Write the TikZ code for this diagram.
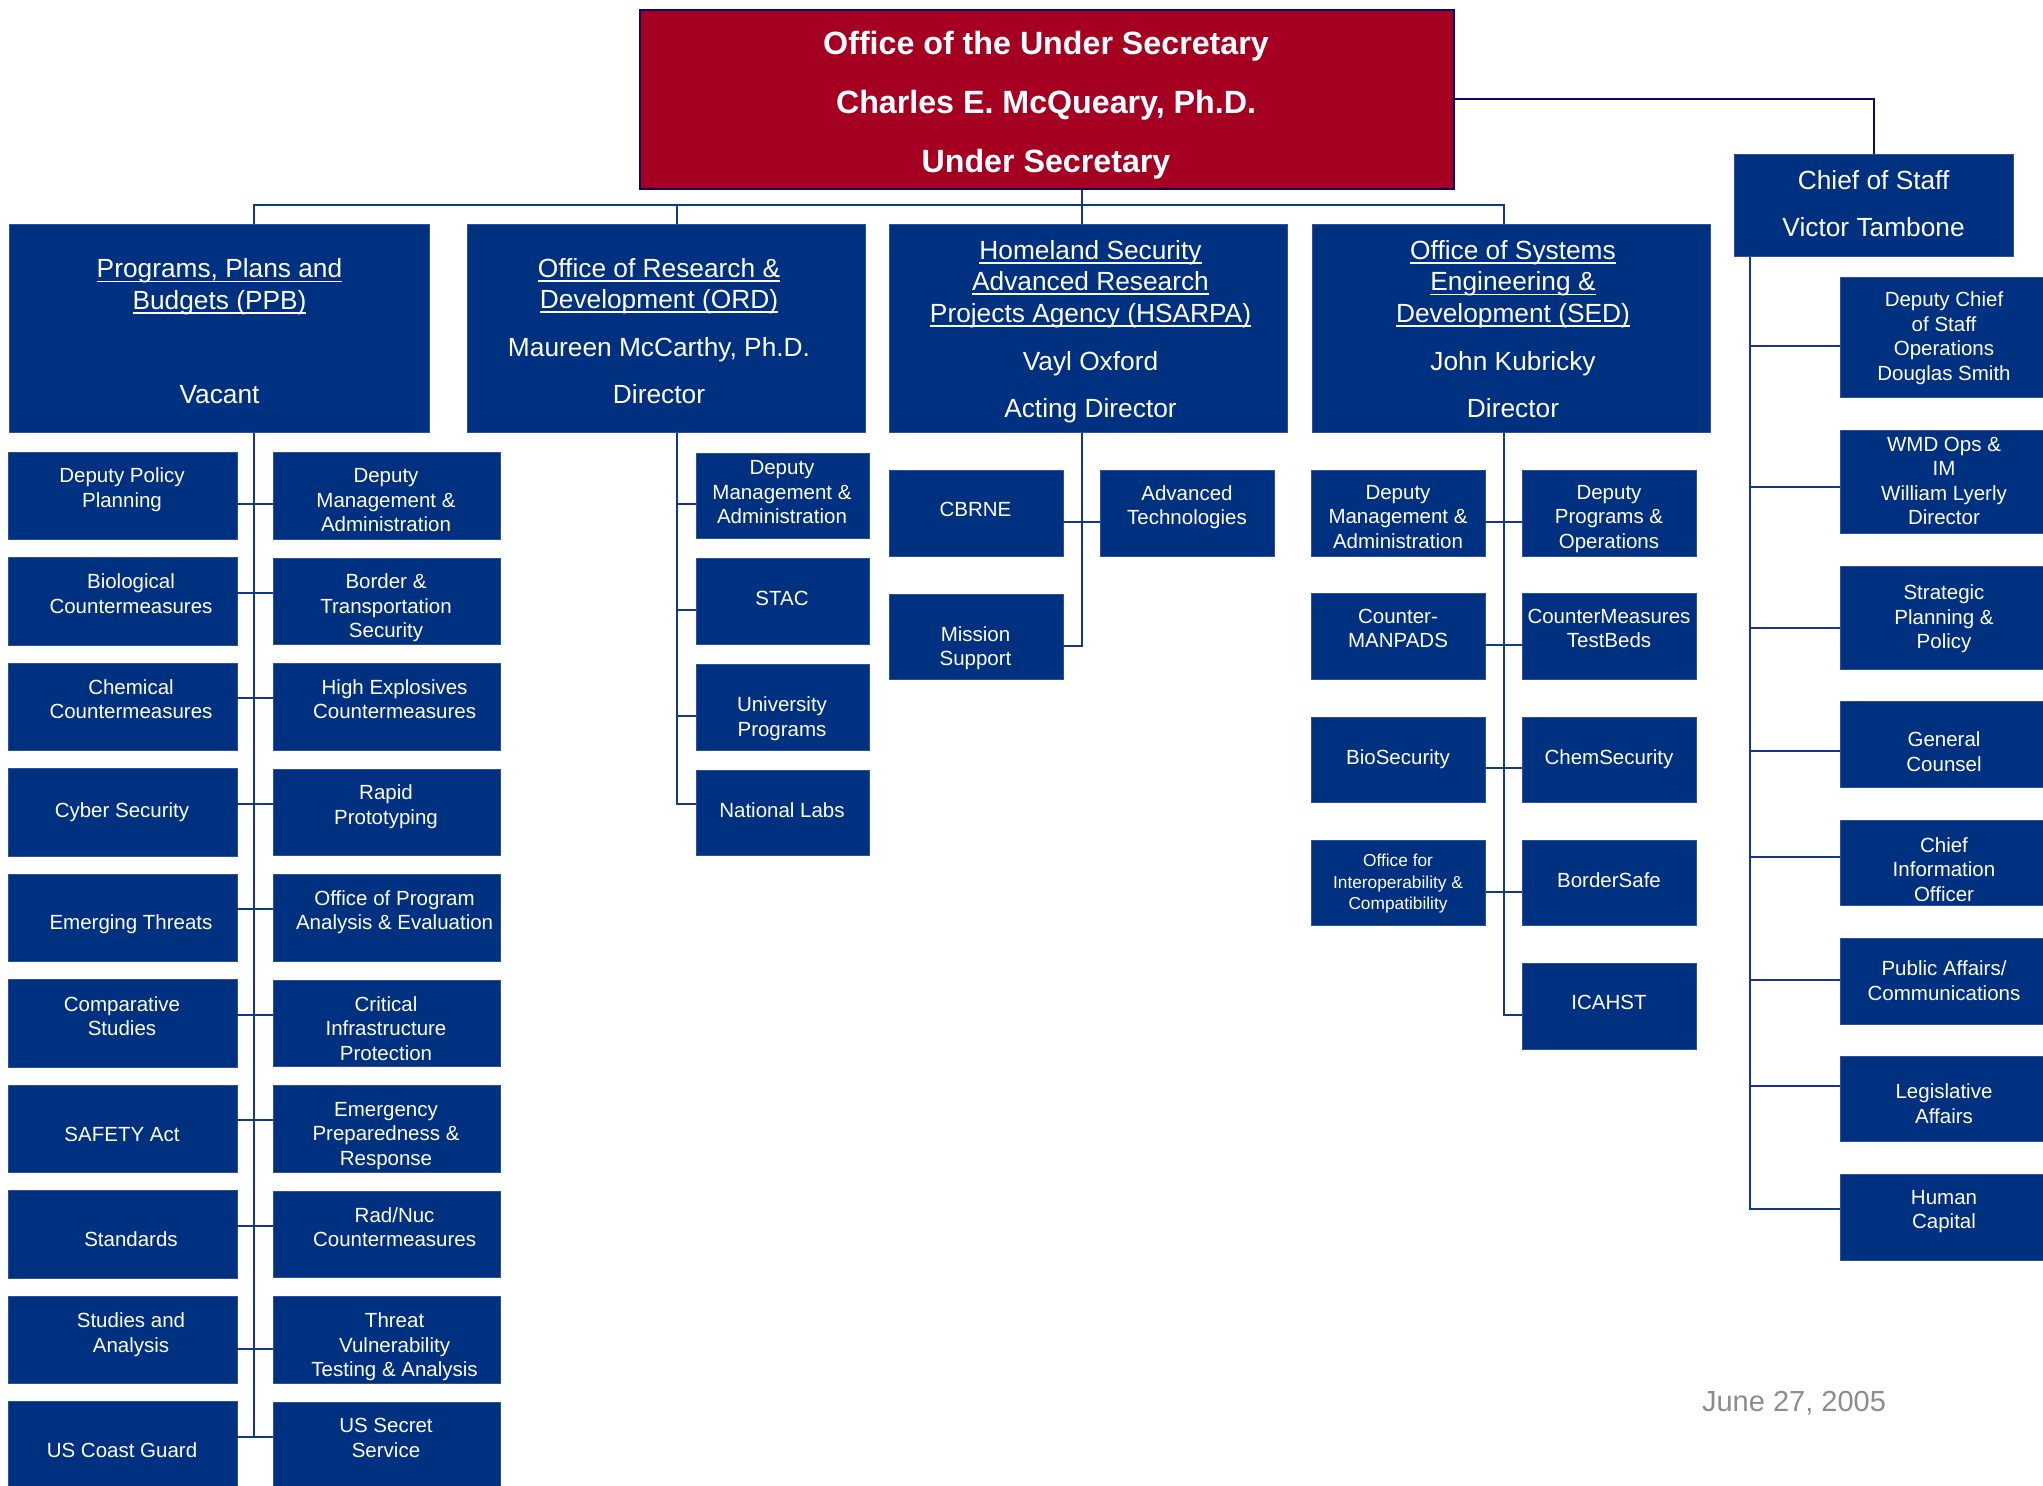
\documentclass[tikz,border=0pt]{standalone}
\usepackage{tikz}
\usepackage{fontspec}
\setmainfont{Liberation Sans}
\newcommand{\ulined}[1]{\setbox0=\hbox{#1}\rlap{\rule[-4.4pt]{\wd0}{1.8pt}}\box0}
\definecolor{dhsnavy}{RGB}{0,48,128}
\definecolor{dhsedge}{RGB}{45,80,155}
\definecolor{dhsred}{RGB}{165,0,33}
\definecolor{dhsdark}{RGB}{10,10,100}
\definecolor{wireblue}{RGB}{20,55,140}
\definecolor{dategray}{RGB}{140,140,140}

\begin{document}
\begin{tikzpicture}[x=1pt, y=-1pt,
    unitbox/.style={rectangle, fill=dhsnavy, draw=dhsedge, line width=0.8pt, inner sep=0pt},
    headbox/.style={unitbox, minimum width=398pt, minimum height=208.5pt},
    ppbl/.style={unitbox, minimum width=229pt, minimum height=87.5pt},
    ppbr/.style={unitbox, minimum width=227pt, minimum height=86.5pt},
    subbox/.style={unitbox, minimum width=173.5pt, minimum height=85.5pt},
    cosbox/.style={unitbox, minimum width=208pt, minimum height=85.5pt},
    txt/.style={text=white, align=center, inner sep=0pt, font=\fontsize{20.5}{24.5}\selectfont},
    headtxt/.style={txt, font=\fontsize{26.3}{31.5}\selectfont},
    titletxt/.style={txt, font=\bfseries\fontsize{32.2}{59}\selectfont},
    wire/.style={draw=wireblue, line width=2pt}]
        \useasboundingbox (0,0) rectangle (2043,1486);
        % Define the nodes
        \node[unitbox, fill=dhsred, draw=dhsdark, line width=2pt, minimum width=814pt, minimum height=178.5pt] (usec) at (1047,99.25) {};
        \node[titletxt] (usect) at (1046,105) {Office of the Under Secretary\\Charles E. McQueary, Ph.D.\\Under Secretary};
        \node[headbox, minimum width=419.5pt] (ppb) at (219.3,328.25) {};
        \node[headtxt] (ppbt) at (219.5,331.3) {\ulined{Programs, Plans and}\\\ulined{Budgets (PPB)}\\[62.5pt]Vacant};
        \node[headbox] (ord) at (666.2,328.25) {};
        \node[headtxt] (ordt) at (659,331) {\ulined{Office of Research \&}\\\ulined{Development (ORD)}\\[16.5pt]Maureen McCarthy, Ph.D.\\[15.5pt]Director};
        \node[headbox] (hsa) at (1088.5,328.25) {};
        \node[headtxt] (hsat) at (1090.5,331.5) {\ulined{Homeland Security}\\\ulined{Advanced Research}\\\ulined{Projects Agency (HSARPA)}\\[16.5pt]Vayl Oxford\\[15.5pt]Acting Director};
        \node[headbox] (sed) at (1511.3,328.25) {};
        \node[headtxt] (sedt) at (1513,329) {\ulined{Office of Systems}\\\ulined{Engineering \&}\\\ulined{Development (SED)}\\[16.5pt]John Kubricky\\[15.5pt]Director};
        \node[unitbox, minimum width=279.7pt, minimum height=102.7pt] (cos) at (1873.85,205.35) {};
        \node[headtxt] (cost) at (1873.6,203.7) {Chief of Staff\\[15pt]Victor Tambone};
        % PPB offices
        \node[ppbl] (pl1)  at (122.5,495.75)  {};
        \node[txt]  (pl1t) at (122,489.9)     {Deputy Policy\\Planning};
        \node[ppbr] (pr1)  at (386.5,495.75)  {};
        \node[txt]  (pr1t) at (386,500.2)     {Deputy\\Management \&\\Administration};
        \node[ppbl] (pl2)  at (122.5,601.25)  {};
        \node[txt]  (pl2t) at (131,593.5)     {Biological\\Countermeasures};
        \node[ppbr] (pr2)  at (386.5,601.25)  {};
        \node[txt]  (pr2t) at (386,608)       {Border \&\\Transportation\\Security};
        \node[ppbl] (pl3)  at (122.5,706.75)  {};
        \node[txt]  (pl3t) at (131,699.3)     {Chemical\\Countermeasures};
        \node[ppbr] (pr3)  at (386.5,706.75)  {};
        \node[txt]  (pr3t) at (394.6,699.3)   {High Explosives\\Countermeasures};
        \node[ppbl] (pl4)  at (122.5,812.25)  {};
        \node[txt]  (pl4t) at (122,812.6)     {Cyber Security};
        \node[ppbr] (pr4)  at (386.5,812.25)  {};
        \node[txt]  (pr4t) at (386,806.6)     {Rapid\\Prototyping};
        \node[ppbl] (pl5)  at (122.5,917.75)  {};
        \node[txt]  (pl5t) at (131,924.5)     {Emerging Threats};
        \node[ppbr] (pr5)  at (386.5,917.75)  {};
        \node[txt]  (pr5t) at (394.6,912)     {Office of Program\\Analysis \& Evaluation};
        \node[ppbl] (pl6)  at (122.5,1023.25) {};
        \node[txt]  (pl6t) at (122,1016)      {Comparative\\Studies};
        \node[ppbr] (pr6)  at (386.5,1023.25) {};
        \node[txt]  (pr6t) at (386,1028.3)    {Critical\\Infrastructure\\Protection};
        \node[ppbl] (pl7)  at (122.5,1128.75) {};
        \node[txt]  (pl7t) at (122,1134)      {SAFETY Act};
        \node[ppbr] (pr7)  at (386.5,1128.75) {};
        \node[txt]  (pr7t) at (386,1136)      {Emergency\\Preparedness \&\\Response};
        \node[ppbl] (pl8)  at (122.5,1234.25) {};
        \node[txt]  (pl8t) at (131,1239.4)    {Standards};
        \node[ppbr] (pr8)  at (386.5,1234.25) {};
        \node[txt]  (pr8t) at (394.6,1227.2)  {Rad/Nuc\\Countermeasures};
        \node[ppbl] (pl9)  at (122.5,1339.75) {};
        \node[txt]  (pl9t) at (131,1334.8)    {Studies and\\Analysis};
        \node[ppbr] (pr9)  at (386.5,1339.75) {};
        \node[txt]  (pr9t) at (394.6,1346.8)  {Threat\\Vulnerability\\Testing \& Analysis};
        \node[ppbl] (pl10)  at (122.5,1445.25) {};
        \node[txt]  (pl10t) at (122,1449.8)    {US Coast Guard};
        \node[ppbr] (pr10)  at (386.5,1445.25) {};
        \node[txt]  (pr10t) at (386,1437.8)    {US Secret\\Service};
        % ORD offices
        \node[subbox] (o1)  at (782.7,495.8) {};
        \node[txt]    (o1t) at (782,492.5)   {Deputy\\Management \&\\Administration};
        \node[subbox] (o2)  at (782.7,601.5) {};
        \node[txt]    (o2t) at (782,598.6)   {STAC};
        \node[subbox] (o3)  at (782.7,707.2) {};
        \node[txt]    (o3t) at (782,718.6)   {University\\Programs};
        \node[subbox] (o4)  at (782.7,812.9) {};
        \node[txt]    (o4t) at (782,810)     {National Labs};
        % HSARPA offices
        \node[subbox] (cbrne)    at (976.2,513.2)  {};
        \node[txt]    (cbrnet)   at (975.5,509.6)  {CBRNE};
        \node[subbox] (advt)     at (1187.3,513.2) {};
        \node[txt]    (advtt)    at (1187,507)     {Advanced\\Technologies};
        \node[subbox] (mission)  at (976.2,636.7)  {};
        \node[txt]    (missiont) at (975.5,648)    {Mission\\Support};
        % SED offices
        \node[subbox] (sl1)  at (1398.5,513.2)  {};
        \node[txt]    (sl1t) at (1398,517)      {Deputy\\Management \&\\Administration};
        \node[subbox] (sr1)  at (1609.5,513.2)  {};
        \node[txt]    (sr1t) at (1609,519)      {Deputy\\Programs \&\\Operations};
        \node[subbox] (sl2)  at (1398.5,636.5)  {};
        \node[txt]    (sl2t) at (1398,628.5)    {Counter-\\MANPADS};
        \node[subbox] (sr2)  at (1609.5,636.5)  {};
        \node[txt]    (sr2t) at (1609,628.5)    {CounterMeasures\\TestBeds};
        \node[subbox] (sl3)  at (1398.5,759.7)  {};
        \node[txt]    (sl3t) at (1398,759)      {BioSecurity};
        \node[subbox] (sr3)  at (1609.5,759.7)  {};
        \node[txt]    (sr3t) at (1609,759)      {ChemSecurity};
        \node[subbox] (sl4)  at (1398.5,883)    {};
        \node[txt, font=\fontsize{17.3}{21.5}\selectfont] (sl4t) at (1398,884) {Office for\\Interoperability \&\\Compatibility};
        \node[subbox] (sr4)  at (1609.5,883)    {};
        \node[txt]    (sr4t) at (1609,880)      {BorderSafe};
        \node[subbox] (sr5)  at (1609.5,1006.5) {};
        \node[txt]    (sr5t) at (1609,1002.6)   {ICAHST};
        % Chief of Staff offices
        \node[cosbox, minimum height=120.7pt] (c1) at (1944,337.35) {};
        \node[txt] (c1t) at (1944,338)   {Deputy Chief\\of Staff\\Operations\\Douglas Smith};
        \node[cosbox, minimum height=103pt] (c2) at (1944,481.8) {};
        \node[txt] (c2t) at (1944,481)   {WMD Ops \&\\IM\\William Lyerly\\Director};
        \node[cosbox, minimum height=103pt] (c3) at (1944,617.5) {};
        \node[txt] (c3t) at (1944,618.7) {Strategic\\Planning \&\\Policy};
        \node[cosbox] (c4)  at (1944,744.2)  {};
        \node[txt]    (c4t) at (1944,751.5)  {General\\Counsel};
        \node[cosbox] (c5)  at (1944,863)    {};
        \node[txt]    (c5t) at (1944,869.5)  {Chief\\Information\\Officer};
        \node[cosbox] (c6)  at (1944,981.2)  {};
        \node[txt]    (c6t) at (1944,980.5)  {Public Affairs/\\Communications};
        \node[cosbox] (c7)  at (1944,1099)   {};
        \node[txt]    (c7t) at (1944,1103.8) {Legislative\\Affairs};
        \node[cosbox] (c8)  at (1944,1217.5) {};
        \node[txt]    (c8t) at (1944,1211.5) {Human\\Capital};
        \node[text=dategray, font=\fontsize{29}{34}\selectfont, inner sep=0pt] (date) at (1794,1403.5) {June 27, 2005};
        % Connect the nodes
        \coordinate (busl) at (254,205);
        \coordinate (busr) at (1504,205);
        \coordinate (ppbx) at (254,432.5);
        \coordinate (ordx) at (677,432.5);
        \coordinate (hsax) at (1082,432.5);
        \coordinate (sedx) at (1504,432.5);
        \coordinate (cosx) at (1750,256.7);
        \draw[wire, line width=2.5pt] (ppb.north -| busl) -- (busl) -- (busr) -- (sed.north -| busr);
        \draw[wire] (ord.north -| ordx) -- (ordx |- busl);
        \draw[wire] (usec.south -| hsax) -- (hsa.north -| hsax);
        \draw[wire, draw=dhsdark] (usec.east) -| (cos.north);
        % PPB
        \draw[wire] ([yshift=-8pt]pl1.east) -- ([yshift=-8pt]pr1.west);
        \draw[wire] ([yshift=8.5pt]pl2.east) -- ([yshift=8.5pt]pr2.west);
        \draw[wire] ([yshift=8.5pt]pl3.east) -- ([yshift=8.5pt]pr3.west);
        \draw[wire] ([yshift=8.5pt]pl4.east) -- ([yshift=8.5pt]pr4.west);
        \draw[wire] ([yshift=8.5pt]pl5.east) -- ([yshift=8.5pt]pr5.west);
        \draw[wire] ([yshift=8.5pt]pl6.east) -- ([yshift=8.5pt]pr6.west);
        \draw[wire] ([yshift=8.5pt]pl7.east) -- ([yshift=8.5pt]pr7.west);
        \draw[wire] ([yshift=8.5pt]pl8.east) -- ([yshift=8.5pt]pr8.west);
        \draw[wire] ([yshift=-9pt]pl9.east) -- ([yshift=-9pt]pr9.west);
        \draw[wire] ([yshift=8pt]pl10.east) -- ([yshift=8pt]pr10.west);
        \draw[wire] ([yshift=8pt]pr10.west) -| (ppbx);
        % ORD
        \draw[wire] ([yshift=-8.5pt]o1.west) -| (ordx);
        \draw[wire] ([yshift=-8.5pt]o2.west) -| (ordx);
        \draw[wire] ([yshift=-8.5pt]o3.west) -| (ordx);
        \draw[wire] ([yshift=9pt]o4.west) -| (ordx);
        % HSARPA
        \draw[wire] ([yshift=-9pt]cbrne.east) -- ([yshift=-9pt]advt.west);
        \draw[wire] ([yshift=-9pt]mission.east) -| (hsax);
        % SED
        \draw[wire] ([yshift=-8.5pt]sl1.east) -- ([yshift=-8.5pt]sr1.west);
        \draw[wire] ([yshift=-8.5pt]sl2.east) -- ([yshift=-8.5pt]sr2.west);
        \draw[wire] ([yshift=-8.5pt]sl3.east) -- ([yshift=-8.5pt]sr3.west);
        \draw[wire] ([yshift=-8.5pt]sl4.east) -- ([yshift=-8.5pt]sr4.west);
        \draw[wire] ([yshift=-8.5pt]sr5.west) -| (sedx);
        % Chief of Staff
        \draw[wire] ([yshift=-8.5pt]c1.west) -| (cosx);
        \draw[wire] ([yshift=-5pt]c2.west) -| (cosx);
        \draw[wire] ([yshift=-10.5pt]c3.west) -| (cosx);
        \draw[wire] ([yshift=-6.5pt]c4.west) -| (cosx);
        \draw[wire] ([yshift=6.5pt]c5.west) -| (cosx);
        \draw[wire] ([yshift=1.5pt]c6.west) -| (cosx);
        \draw[wire] ([yshift=13.5pt]c7.west) -| (cosx);
        \draw[wire] ([yshift=9pt]c8.west) -| (cosx);
    \end{tikzpicture}
\end{document}
